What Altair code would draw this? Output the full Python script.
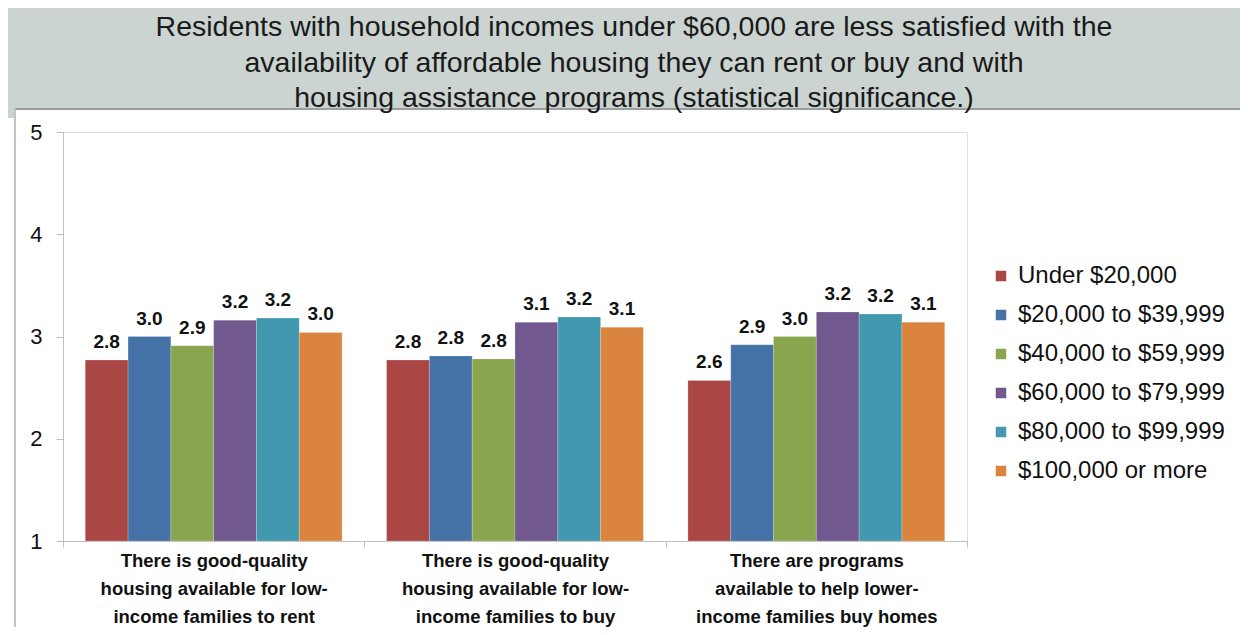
import altair as alt
import pandas as pd

# ---- data ----
categories = [
    "There is good-quality\nhousing available for low-\nincome families to rent",
    "There is good-quality\nhousing available for low-\nincome families to buy",
    "There are programs\navailable to help lower-\nincome families buy homes",
]
incomes = [
    "Under $20,000",
    "$20,000 to $39,999",
    "$40,000 to $59,999",
    "$60,000 to $79,999",
    "$80,000 to $99,999",
    "$100,000 or more",
]
values_rent = [2.77, 3.00, 2.91, 3.16, 3.18, 3.04]
values_buy = [2.77, 2.81, 2.78, 3.14, 3.19, 3.09]
values_programs = [2.57, 2.92, 3.00, 3.24, 3.22, 3.14]
colors = ["#AA4643", "#4572A7", "#89A54E", "#71588F", "#4198AF", "#DB843D"]
y_ticks = [1, 2, 3, 4, 5]
title_lines = [
    "Residents with household incomes under $60,000 are less satisfied with the",
    "availability of affordable housing they can rent or buy and with",
    "housing assistance  programs (statistical significance.)",
]

rows = []
for cat, vals in zip(categories, [values_rent, values_buy, values_programs]):
    for inc, v in zip(incomes, vals):
        rows.append({"category": cat, "income": inc, "value": v, "label": f"{v:.1f}"})
df = pd.DataFrame(rows)
one = pd.DataFrame({"k": [0]})

FONT = "Liberation Sans"

x_enc = alt.X(
    "category:N",
    sort=categories,
    title=None,
    scale=alt.Scale(paddingInner=0, paddingOuter=0),
    axis=alt.Axis(
        labelExpr="split(datum.label, '\\n')",
        labelAngle=0,
        labelFontSize=18.5,
        labelFontWeight="bold",
        labelColor="#111111",
        labelLineHeight=28,
        labelPadding=4,
        labelBaseline="top",
        labelLimit=0,
        tickBand="extent",
        tickSize=6,
        tickColor="#bfbfbf",
        domainColor="#bfbfbf",
        labelFont=FONT,
    ),
)
xoff_enc = alt.XOffset(
    "income:N", sort=incomes, scale=alt.Scale(paddingOuter=0.52, paddingInner=0)
)
y_enc = alt.Y(
    "value:Q",
    title=None,
    scale=alt.Scale(domain=[1, 5], nice=False, zero=False),
    axis=alt.Axis(
        values=y_ticks,
        format="d",
        grid=False,
        tickSize=7,
        tickColor="#bfbfbf",
        domainColor="#bfbfbf",
        labelFontSize=22,
        labelColor="#111111",
        labelPadding=14,
        labelFont=FONT,
    ),
)

bars = alt.Chart(df).mark_bar(stroke="white", strokeWidth=0.5, strokeOpacity=0.4).encode(
    x=x_enc,
    xOffset=xoff_enc,
    y=y_enc,
    y2=alt.datum(1),
    color=alt.Color(
        "income:N",
        sort=incomes,
        scale=alt.Scale(domain=incomes, range=colors),
        legend=alt.Legend(
            title=None,
            orient="none",
            legendX=926,
            legendY=132,
            symbolType="square",
            symbolSize=110,
            symbolStrokeWidth=0,
            labelFontSize=24,
            labelFont=FONT,
            labelColor="#111111",
            labelOffset=5,
            labelLimit=0,
            rowPadding=15,
            padding=0,
        ),
    ),
)

labels = alt.Chart(df).mark_text(
    dy=-8, baseline="bottom", fontSize=19, fontWeight="bold", font=FONT, color="#111111"
).encode(
    x=alt.X("category:N", sort=categories),
    xOffset=alt.XOffset("income:N", sort=incomes),
    y=alt.Y("value:Q"),
    text="label:N",
)

banner = alt.Chart(one).mark_rect(color="#cbd4d0").encode(
    x=alt.value(-60), x2=alt.value(1190), y=alt.value(-130), y2=alt.value(-23)
)
banner_line = alt.Chart(one).mark_rule(color="#9a9f9d", strokeWidth=2).encode(
    x=alt.value(-48), x2=alt.value(1190), y=alt.value(-23)
)
left_border = alt.Chart(one).mark_rule(color="#c4c4c4", strokeWidth=2).encode(
    x=alt.value(-48), y=alt.value(-23), y2=alt.value(500)
)
left_strip = alt.Chart(one).mark_rect(color="#cbd4d0").encode(
    x=alt.value(-60), x2=alt.value(-48), y=alt.value(-23), y2=alt.value(-14)
)
title = alt.Chart(one).mark_text(
    fontSize=28.5, font=FONT, color="#1a1a1a", lineHeight=35.5, baseline="middle", align="center"
).encode(
    x=alt.value(571), y=alt.value(-105), text=alt.value(title_lines)
)

chart = alt.layer(banner, left_strip, banner_line, left_border, title, bars, labels).properties(
    width=904,
    height=409,
    autosize=alt.AutoSizeParams(type="none"),
    padding={"left": 55, "top": 124, "right": 273, "bottom": 86},
).configure_view(stroke=None).configure(background="white")

chart.save("out.html", embed_options={"renderer": "svg", "actions": False})
